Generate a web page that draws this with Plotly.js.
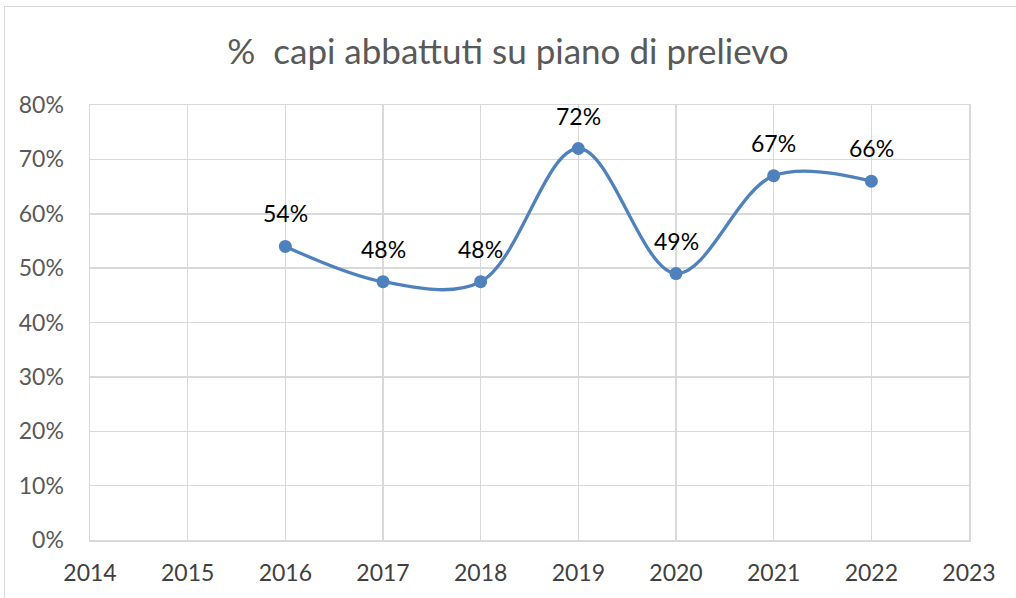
<!DOCTYPE html>
<html><head><meta charset="utf-8">
<script src="https://cdn.plot.ly/plotly-3.0.1.min.js"></script>
<style>html,body{margin:0;padding:0;background:#fff}#frame{position:absolute;left:4px;top:6px;width:1020px;height:600px;border:1.5px solid #d9d9d9;box-sizing:border-box}#chart{position:absolute;left:0;top:0;width:1016px;height:598px}</style>
</head><body>
<div id="frame"></div>
<div id="chart"></div>
<script>
const years = [2016, 2017, 2018, 2019, 2020, 2021, 2022];
const values = [0.54, 0.475, 0.475, 0.72, 0.49, 0.67, 0.66];
const labels = ['54%', '48%', '48%', '72%', '49%', '67%', '66%'];
const xTicks = [2014, 2015, 2016, 2017, 2018, 2019, 2020, 2021, 2022, 2023];
const yTicks = [0, 0.1, 0.2, 0.3, 0.4, 0.5, 0.6, 0.7, 0.8];
const yTickText = ['0%', '10%', '20%', '30%', '40%', '50%', '60%', '70%', '80%'];
const titleText = '%  capi abbattuti su piano di prelievo';

const font = 'Lato, "Open Sans", sans-serif';
const trace = {
  x: years, y: values, type: 'scatter', mode: 'lines+markers',
  line: {shape: 'spline', smoothing: 1, color: '#4F81BD', width: 3.3},
  marker: {size: 13, color: '#4F81BD'},
  hoverinfo: 'skip'
};
const annotations = years.map((yr, i) => ({
  x: yr, y: values[i], text: labels[i], showarrow: false,
  yshift: 33, font: {family: font, size: 23, color: '#000'}
}));
const layout = {
  width: 1016, height: 598,
  margin: {l: 90, r: 47, t: 105, b: 58},
  paper_bgcolor: 'rgba(0,0,0,0)', plot_bgcolor: '#fff',
  showlegend: false,
  title: {text: titleText, x: 0.5, xanchor: 'center', y: 0.913, yanchor: 'middle',
          font: {family: font, size: 35, color: '#595959'}},
  xaxis: {range: [2014, 2023], tickvals: xTicks, ticktext: xTicks.map(String),
          showgrid: true, gridcolor: '#d9d9d9', gridwidth: 1.5, zeroline: false,
          showline: true, linecolor: '#d9d9d9', linewidth: 1.5, mirror: true,
          ticks: '', ticklabelstandoff: 12, tickfont: {family: font, size: 23, color: '#404040'}},
  yaxis: {range: [0, 0.8], tickvals: yTicks, ticktext: yTickText,
          showgrid: true, gridcolor: '#d9d9d9', gridwidth: 1.5, zeroline: false,
          showline: true, linecolor: '#d9d9d9', linewidth: 1.5, mirror: true,
          ticks: '', ticklabelstandoff: 20, tickfont: {family: font, size: 23, color: '#595959'}},
  annotations: annotations
};
Plotly.newPlot('chart', [trace], layout, {displayModeBar: false, staticPlot: true});
</script>
</body></html>
